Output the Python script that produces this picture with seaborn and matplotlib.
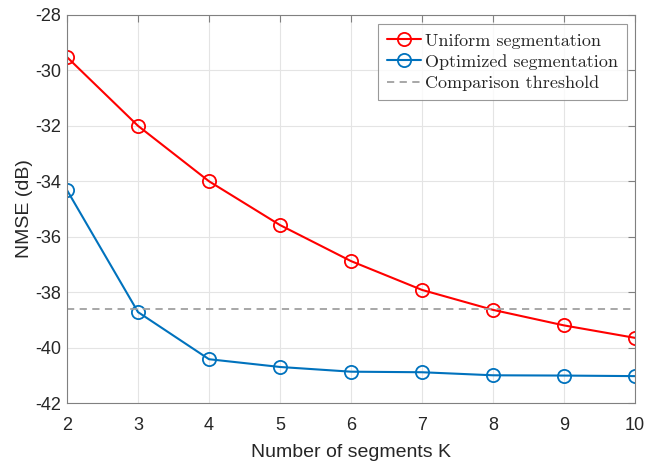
import numpy as np
import pandas as pd
import matplotlib
matplotlib.use('Agg')
import matplotlib.pyplot as plt
import seaborn as sns

# data
segments = [2, 3, 4, 5, 6, 7, 8, 9, 10]
uniform_nmse = [-29.52, -32.0, -34.0, -35.58, -36.88, -37.92, -38.64, -39.2, -39.65]
optimized_nmse = [-34.32, -38.72, -40.42, -40.7, -40.87, -40.89, -41.0, -41.01, -41.03]
threshold = -38.62

xticks = [2, 3, 4, 5, 6, 7, 8, 9, 10]
yticks = [-42, -40, -38, -36, -34, -32, -30, -28]

sns.set_style('white')
plt.rcParams['font.family'] = ['Liberation Sans', 'DejaVu Sans']

df = pd.DataFrame({'K': segments, 'uniform': uniform_nmse, 'optimized': optimized_nmse})

fig = plt.figure(figsize=(6.48, 4.61), dpi=100)
ax = fig.add_axes([0.1034, 0.1258, 0.8766, 0.8417])

sns.lineplot(data=df, x='K', y='uniform', ax=ax, color='#ff0000', lw=1.5,
             marker='o', markersize=9.5, markerfacecolor='none',
             markeredgecolor='#ff0000', markeredgewidth=1.3,
             label='Uniform segmentation')
sns.lineplot(data=df, x='K', y='optimized', ax=ax, color='#0072bd', lw=1.5,
             marker='o', markersize=9.5, markerfacecolor='none',
             markeredgecolor='#0072bd', markeredgewidth=1.3,
             label='Optimized segmentation')
ax.axhline(threshold, color='#a0a0a0', lw=1.3, ls=(0, (4, 3)),
           label='Comparison threshold')

ax.set_xlim(2, 10)
ax.set_ylim(-42, -28)
ax.set_xticks(xticks)
ax.set_yticks(yticks)
ax.set_xticklabels([str(t) for t in xticks])
ax.set_yticklabels([str(t) for t in yticks])
ax.grid(True, color='#e4e4e4', lw=0.8)
ax.set_axisbelow(True)

for s in ax.spines.values():
    s.set_color('#808080')
    s.set_linewidth(0.8)
ax.tick_params(direction='in', length=5, width=0.8, colors='#808080',
               labelcolor='#262626', labelsize=13, top=True, right=True)
ax.tick_params(axis='x', pad=10)
ax.tick_params(axis='y', pad=4)

ax.set_xlabel('Number of segments K', fontsize=14, color='#262626', labelpad=7)
ax.set_ylabel('NMSE (dB)', fontsize=14, color='#262626', labelpad=2)

leg = ax.legend(loc='upper right', bbox_to_anchor=(0.986, 0.977), borderaxespad=0,
                prop={'family': 'cmr10', 'size': 13},
                frameon=True, fancybox=False, edgecolor='#808080',
                handlelength=1.9, handletextpad=0.2, borderpad=0.5,
                labelspacing=0.3)
leg.get_frame().set_linewidth(0.8)

fig.savefig('out.png', dpi=100)
